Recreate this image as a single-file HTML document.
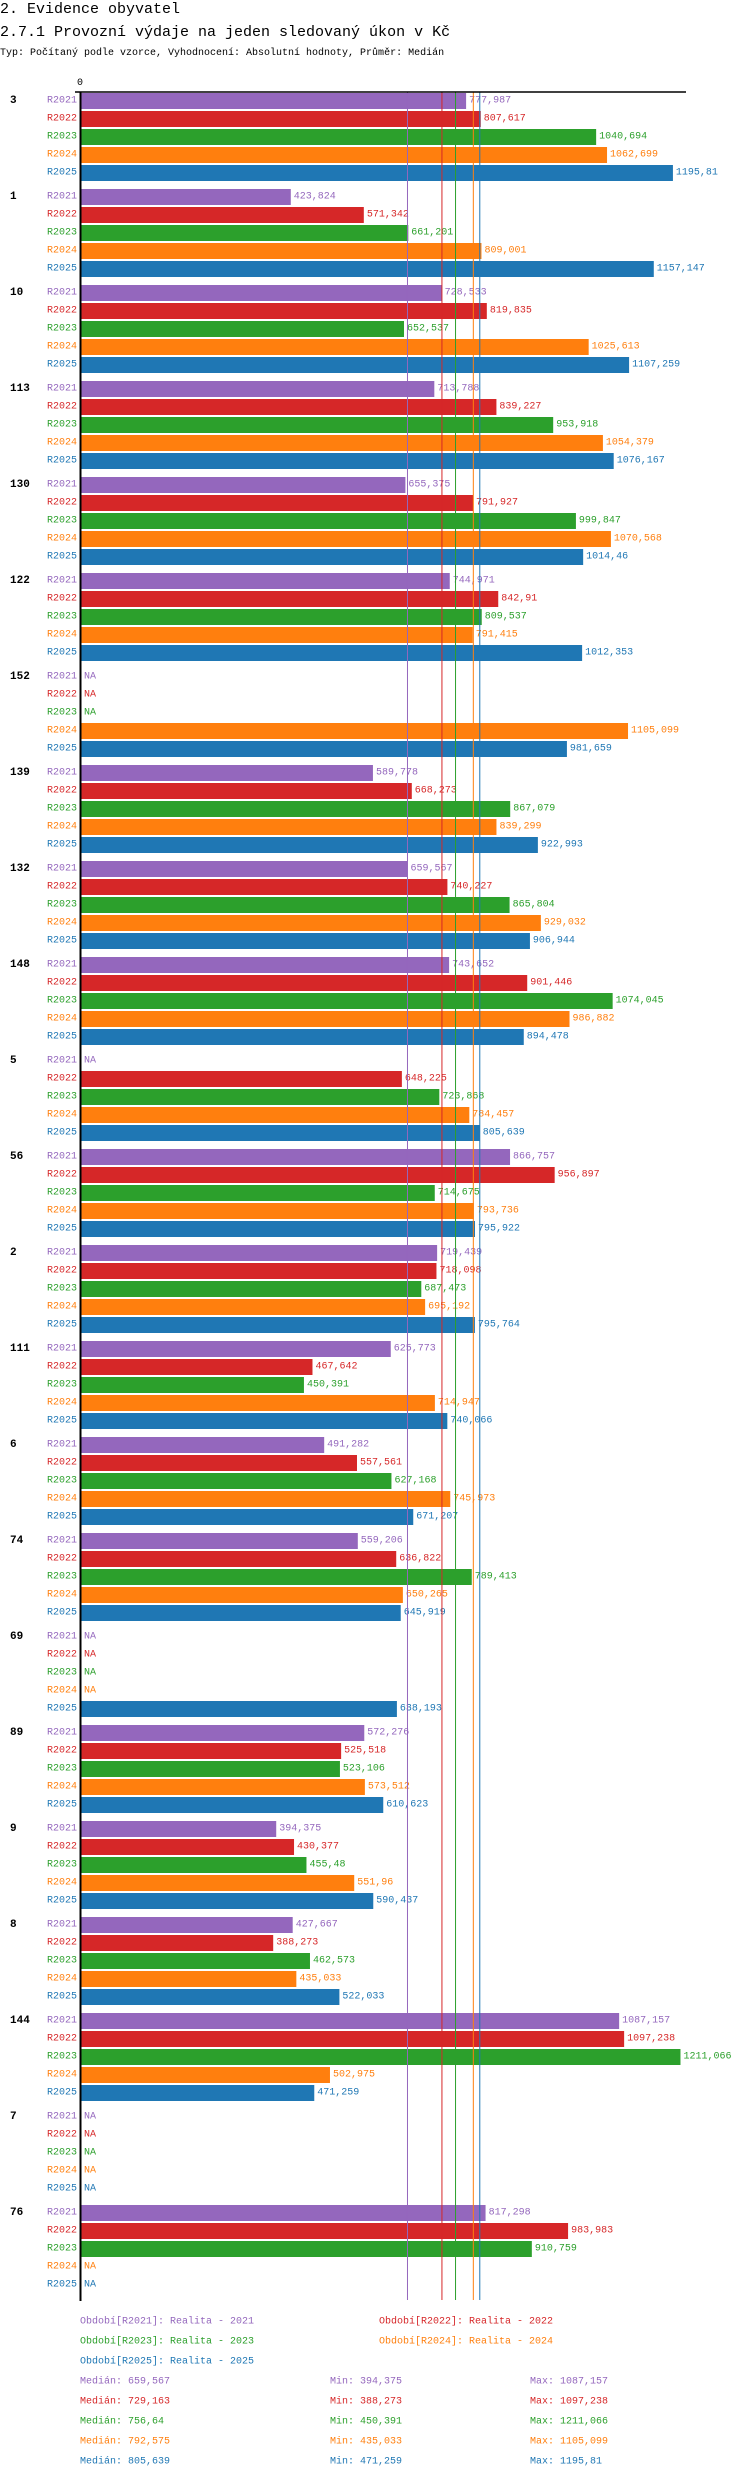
<!DOCTYPE html>
<html><head><meta charset="utf-8"><style>
body{margin:0;background:#fff;width:750px;height:2480px;overflow:hidden}
svg{display:block}
</style></head><body>
<svg id="chart" width="750" height="2480" xmlns="http://www.w3.org/2000/svg" font-family="'Liberation Mono','DejaVu Sans Mono',monospace">
<text x="0" y="13" font-size="15">2. Evidence obyvatel</text>
<text x="0" y="36" font-size="15">2.7.1 Provozní výdaje na jeden sledovaný úkon v Kč</text>
<text x="0" y="55" font-size="10">Typ: Počítaný podle vzorce, Vyhodnocení: Absolutní hodnoty, Průměr: Medián</text>
<text x="80" y="85" font-size="10" text-anchor="middle">0</text>
</svg>
<script>
const groups=["3","1","10","113","130","122","152","139","132","148","5","56","2","111","6","74","69","89","9","8","144","7","76"];
const seriesNames=["R2021","R2022","R2023","R2024","R2025"];
const s2021=[777.987,423.824,728.533,713.788,655.375,744.971,null,589.778,659.567,743.652,null,866.757,719.439,625.773,491.282,559.206,null,572.276,394.375,427.667,1087.157,null,817.298];
const s2022=[807.617,571.342,819.835,839.227,791.927,842.91,null,668.273,740.227,901.446,648.225,956.897,718.098,467.642,557.561,636.822,null,525.518,430.377,388.273,1097.238,null,983.983];
const s2023=[1040.694,661.201,652.537,953.918,999.847,809.537,null,867.079,865.804,1074.045,723.868,714.675,687.473,450.391,627.168,789.413,null,523.106,455.48,462.573,1211.066,null,910.759];
const s2024=[1062.699,809.001,1025.613,1054.379,1070.568,791.415,1105.099,839.299,929.032,986.882,784.457,793.736,695.192,714.947,745.973,650.265,null,573.512,551.96,435.033,502.975,null,null];
const s2025=[1195.81,1157.147,1107.259,1076.167,1014.46,1012.353,981.659,922.993,906.944,894.478,805.639,795.922,795.764,740.066,671.207,645.919,638.193,610.623,590.437,522.033,471.259,null,null];
const medians=[659.567,729.163,756.64,792.575,805.639];
const mins=[394.375,388.273,450.391,435.033,471.259];
const maxs=[1087.157,1097.238,1211.066,1105.099,1195.81];
const legendLabels=["Období[R2021]: Realita - 2021","Období[R2022]: Realita - 2022","Období[R2023]: Realita - 2023","Období[R2024]: Realita - 2024","Období[R2025]: Realita - 2025"];

const colors=["#9467bd","#d62728","#2ca02c","#ff7f0e","#1f77b4"];
const series=[s2021,s2022,s2023,s2024,s2025];
const NS="http://www.w3.org/2000/svg";
const svg=document.getElementById('chart');
const X0=81, PXU=0.495;
const x=v=>X0+v*PXU;
const groupY=i=>93+i*96;
const rowY=(i,k)=>groupY(i)+k*18;
const fmt=v=>String(+v.toFixed(3)).replace('.',',');
function mk(tag,attrs){const e=document.createElementNS(NS,tag);for(const k in attrs)e.setAttribute(k,attrs[k]);svg.appendChild(e);return e;}

groups.forEach((g,i)=>{
  const gl=mk('text',{x:10,y:rowY(i,0)+8,'font-size':11,'font-weight':'bold','dominant-baseline':'central'});
  gl.textContent=g;
  
  
  series.forEach((s,k)=>{
    const y=rowY(i,k);
    const rl=mk('text',{x:77,y:y+8,'font-size':10,'text-anchor':'end',fill:colors[k],'dominant-baseline':'central'});
    rl.textContent=seriesNames[k];
    
    
    const v=s[i];
    if(v==null){
      const na=mk('text',{x:84,y:y+8,'font-size':10,fill:colors[k],'dominant-baseline':'central'});
      na.textContent='NA';
      
      
    }else{
      const b=mk('rect',{x:X0,y:y,width:x(v)-X0,height:16,fill:colors[k]});
      
      
      const vl=mk('text',{x:x(v)+3,y:y+8,'font-size':10,fill:colors[k],'dominant-baseline':'central'});
      vl.textContent=fmt(v);
      
      
    }
  });
});
medians.forEach((m,k)=>{
  const l=mk('line',{x1:x(m),x2:x(m),y1:92,y2:2300,stroke:colors[k],'stroke-width':1});
  
  
});
const ax=mk('line',{x1:80.5,x2:80.5,y1:92,y2:2301,stroke:'#000','stroke-width':2});


const tx=mk('line',{x1:75,x2:686,y1:92,y2:92,stroke:'#000','stroke-width':1.5});


const legPos=[[80,2322],[379,2322],[80,2342],[379,2342],[80,2362]];
legendLabels.forEach((t,k)=>{
  const e=mk('text',{x:legPos[k][0],y:legPos[k][1],'font-size':10,fill:colors[k],'dominant-baseline':'central'});
  e.textContent=t;
  
  
});
medians.forEach((m,k)=>{
  const y=2382+k*20;
  const a=mk('text',{x:80,y:y,'font-size':10,fill:colors[k],'dominant-baseline':'central'});
  a.textContent='Medián: '+fmt(m);
  
  
  const b=mk('text',{x:330,y:y,'font-size':10,fill:colors[k],'dominant-baseline':'central'});
  b.textContent='Min: '+fmt(mins[k]);
  
  
  const c=mk('text',{x:530,y:y,'font-size':10,fill:colors[k],'dominant-baseline':'central'});
  c.textContent='Max: '+fmt(maxs[k]);
  
  
});
</script>
</body></html>
